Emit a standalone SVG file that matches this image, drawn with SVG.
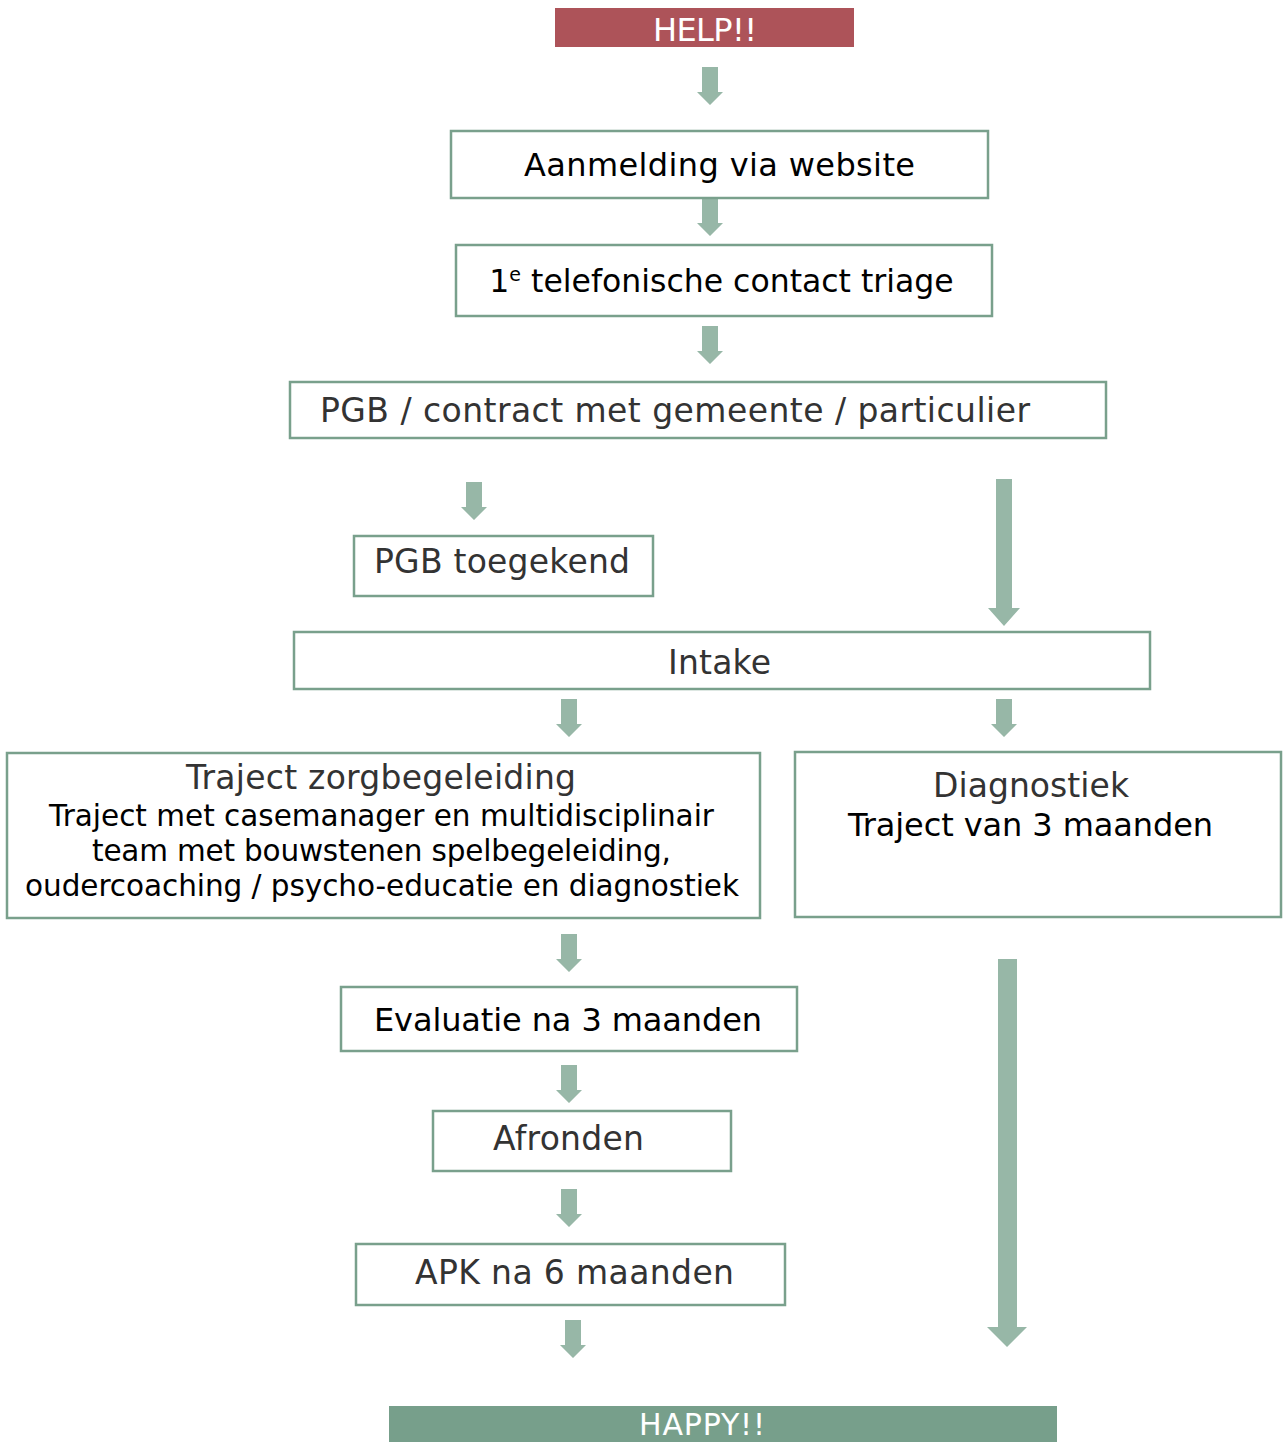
<svg xmlns="http://www.w3.org/2000/svg" width="1286" height="1442" viewBox="0 0 1286 1442">
<style>
.box{fill:#fff;stroke:#79a08c;stroke-width:2.5}
.t{font-family:"DejaVu Sans","Verdana",sans-serif;text-anchor:middle}
.k{fill:#000}
.g{fill:#333;font-size:33px}
.arr{fill:#97b7a7}
</style>
<rect width="1286" height="1442" fill="#fff"/>
<g id="connectors">
<path class="arr" d="M702,67 H718 V92 H723 L710,105 L697,92 H702 Z"/>
<path class="arr" d="M702,198 H718 V223 H723 L710,236 L697,223 H702 Z"/>
<path class="arr" d="M702,326 H718 V351 H723 L710,364 L697,351 H702 Z"/>
<path class="arr" d="M466,482 H482 V507 H487 L474,520 L461,507 H466 Z"/>
<path class="arr" d="M996,479 H1012 V608 H1020 L1004,626 L988,608 H996 Z"/>
<path class="arr" d="M561,699 H577 V724 H582 L569,737 L556,724 H561 Z"/>
<path class="arr" d="M996,699 H1012 V724 H1017 L1004,737 L991,724 H996 Z"/>
<path class="arr" d="M561,934 H577 V959 H582 L569,972 L556,959 H561 Z"/>
<path class="arr" d="M998,959 H1017 V1327 H1027 L1007,1347 L987,1327 H998 Z"/>
<path class="arr" d="M561,1065 H577 V1090 H582 L569,1103 L556,1090 H561 Z"/>
<path class="arr" d="M561,1189 H577 V1214 H582 L569,1227 L556,1214 H561 Z"/>
<path class="arr" d="M565,1320 H581 V1345 H586 L573,1358 L560,1345 H565 Z"/>
</g>
<g id="help">
<rect x="555" y="8" width="299" height="39" fill="#ad5359"/>
<text class="t" x="705" y="41" font-size="32" fill="#fff" textLength="104">HELP!!</text>
</g>
<g id="aanmelding">
<rect class="box" x="451" y="131" width="537" height="67"/>
<text class="t k" x="719.5" y="176" font-size="32" textLength="391">Aanmelding via website</text>
</g>
<g id="triage">
<rect class="box" x="456" y="245" width="536" height="71"/>
<text class="t k" x="721.5" y="292" font-size="31.5">1<tspan font-size="19" dy="-11">e</tspan><tspan dy="11"> telefonische contact triage</tspan></text>
</g>
<g id="pgb-contract">
<rect class="box" x="290" y="382" width="816" height="56"/>
<text class="t g" x="675" y="422" textLength="710">PGB / contract met gemeente / particulier</text>
</g>
<g id="pgb-toegekend">
<rect class="box" x="354" y="536" width="299" height="60"/>
<text class="t g" x="502" y="573" textLength="256">PGB toegekend</text>
</g>
<g id="intake">
<rect class="box" x="294" y="632" width="856" height="57"/>
<text class="t g" x="719.5" y="674" textLength="103">Intake</text>
</g>
<g id="traject-zorg">
<rect class="box" x="7" y="753" width="753" height="165"/>
<text class="t g" x="381" y="789" textLength="390">Traject zorgbegeleiding</text>
<text class="t k" x="381.5" y="826" font-size="29.5" textLength="665">Traject met casemanager en multidisciplinair</text>
<text class="t k" x="381.5" y="861" font-size="29.5" textLength="579">team met bouwstenen spelbegeleiding,</text>
<text class="t k" x="382" y="896" font-size="29.5" textLength="714">oudercoaching / psycho-educatie en diagnostiek</text>
</g>
<g id="diagnostiek">
<rect class="box" x="795" y="752" width="486" height="165"/>
<text class="t g" x="1031" y="797" textLength="196">Diagnostiek</text>
<text class="t k" x="1030.5" y="836" font-size="32" textLength="365">Traject van 3 maanden</text>
</g>
<g id="evaluatie">
<rect class="box" x="341" y="987" width="456" height="64"/>
<text class="t k" x="568" y="1031" font-size="32" textLength="388">Evaluatie na 3 maanden</text>
</g>
<g id="afronden">
<rect class="box" x="433" y="1111" width="298" height="60"/>
<text class="t g" x="568.5" y="1150" textLength="151">Afronden</text>
</g>
<g id="apk">
<rect class="box" x="356" y="1244" width="429" height="61"/>
<text class="t g" x="574.5" y="1284" textLength="319">APK na 6 maanden</text>
</g>
<g id="happy">
<rect x="389" y="1406" width="668" height="40" fill="#779f8b"/>
<text class="t" x="702" y="1435" font-size="30" fill="#fff" textLength="126">HAPPY!!</text>
</g>
</svg>
